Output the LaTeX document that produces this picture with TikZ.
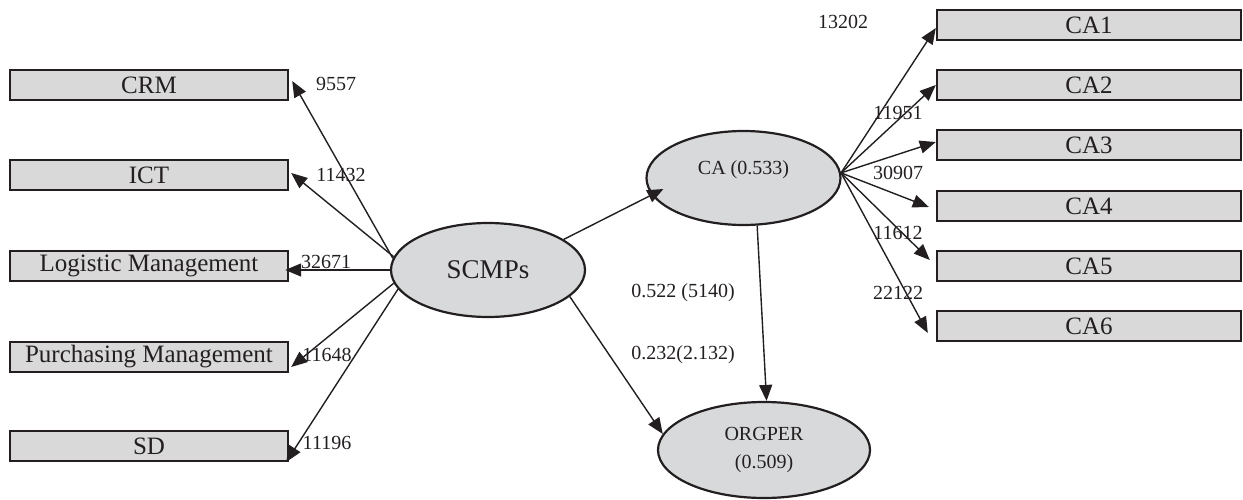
\documentclass[tikz,border=0pt]{standalone}
\usepackage{fontspec}
\setmainfont{Liberation Serif}
\usetikzlibrary{shapes.geometric,arrows.meta}
\definecolor{boxg}{RGB}{217,217,217}
\definecolor{ellg}{RGB}{216,217,219}
\definecolor{ink}{RGB}{35,31,32}
\tikzset{
  mbox/.style={draw=ink, line width=2.4pt, fill=boxg, rectangle, inner sep=0pt,
    minimum height=30pt, text=ink, font=\fontsize{25}{28}\selectfont},
  lbox/.style={mbox, minimum width=278pt},
  rbox/.style={mbox, minimum width=304pt},
  lat/.style={draw=ink, line width=2.2pt, fill=ellg, ellipse, inner sep=0pt,
    minimum width=194pt, minimum height=94pt, text=ink, align=center},
  arr/.style={draw=ink, line width=1.4pt, -{Triangle[length=16pt,width=13pt]}},
  num/.style={text=ink, inner sep=0pt, font=\fontsize{20}{22}\selectfont},
}
\begin{document}
\begin{tikzpicture}[x=1pt,y=-1pt]
\useasboundingbox (0,0) rectangle (1243,500);
% left boxes
\node[lbox] (crm) at (149,85) {CRM};
\node[lbox] (ict) at (149,175) {ICT};
\node[lbox] (log) at (149,266) {Logistic Management};
\node[lbox] (pur) at (149,357) {Purchasing Management};
\node[lbox] (sd)  at (149,446) {SD};
% right boxes
\node[rbox] (ca1) at (1089,25) {CA1};
\node[rbox] (ca2) at (1089,85) {CA2};
\node[rbox] (ca3) at (1089,145) {CA3};
\node[rbox] (ca4) at (1089,206) {CA4};
\node[rbox] (ca5) at (1089,266) {CA5};
\node[rbox] (ca6) at (1089,326) {CA6};
% latent variables
\node[lat, font=\fontsize{27}{30}\selectfont] (scmp) at (488,270) {SCMPs};
\node[lat, font=\fontsize{20}{22}\selectfont, text height=14pt, text depth=20pt] (ca) at (743.5,178) {CA (0.533)};
\node[lat, minimum width=212pt, minimum height=96pt, font=\fontsize{20}{28}\selectfont] (org) at (764,450) {ORGPER\\(0.509)};
% left connectors
\draw[arr] (scmp.173) -- ([xshift=3pt,yshift=4pt]crm.east);
\draw[arr] (scmp.172) -- ([xshift=2pt,yshift=2pt]ict.east);
\draw[arr] (scmp.180) -- ([xshift=-4pt,yshift=-4pt]log.east);
\draw[arr] (scmp.188) -- ([xshift=2pt,yshift=-10pt]pur.east);
\draw[arr] (scmp.192) -- ([xshift=-3pt,yshift=-16pt]sd.east);
% right connectors
\draw[arr] (ca.3) -- ([yshift=-3pt]ca1.west);
\draw[arr] (ca.3) -- (ca2.west);
\draw[arr] (ca.3) -- ([yshift=3pt]ca3.west);
\draw[arr] (ca.3) -- ([xshift=-7pt,yshift=-1pt]ca4.west);
\draw[arr] (ca.3) -- ([xshift=-6pt,yshift=6pt]ca5.west);
\draw[arr] (ca.3) -- ([xshift=-8pt,yshift=-7pt]ca6.west);
% structural paths
\draw[arr] (scmp.22) -- ([xshift=18pt,yshift=-11pt]ca.west);
\draw[arr] (scmp.342) -- (org.171);
\draw[arr] (ca.286) -- (org.87);
% loadings
\node[num] (n1) at (336,84) {9557};
\node[num] (n2) at (341,175) {11432};
\node[num] (n3) at (326,262) {32671};
\node[num] (n4) at (327,355) {11648};
\node[num] (n5) at (327,443) {11196};
\node[num] (n6) at (843,22) {13202};
\node[num] (n7) at (898,113) {11951};
\node[num] (n8) at (898,173) {30907};
\node[num] (n9) at (898,233) {11612};
\node[num] (n10) at (898,293) {22122};
\node[num] (p1) at (683,293) {0.522 (5140)};
\node[num] (p2) at (683,355) {0.232(2.132)};
\end{tikzpicture}
\end{document}
